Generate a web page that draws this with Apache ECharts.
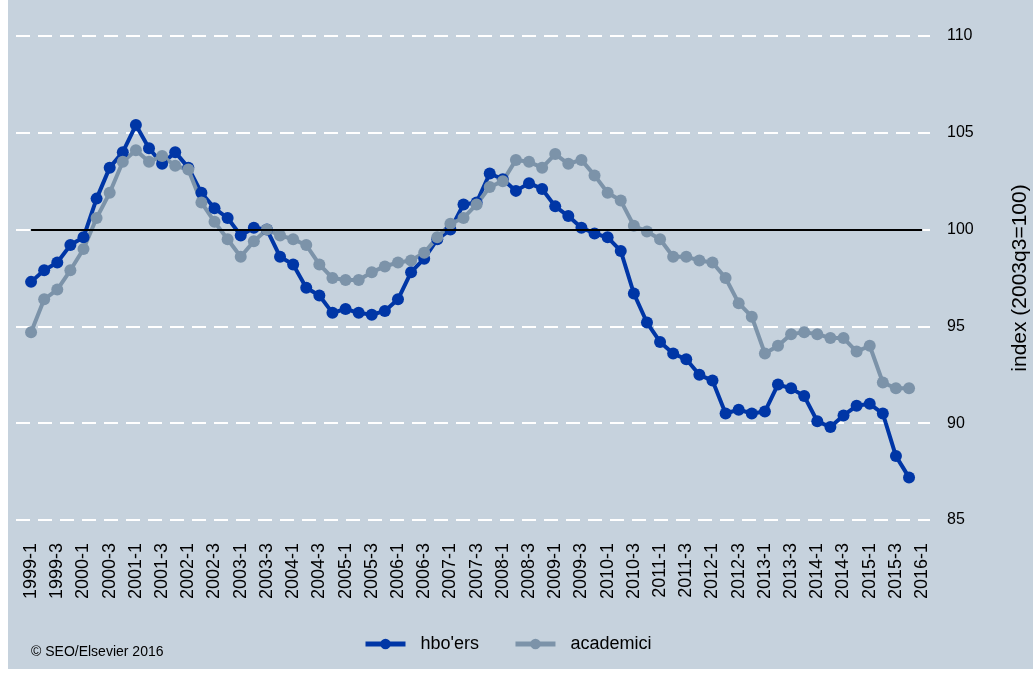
<!DOCTYPE html>
<html>
<head>
<meta charset="utf-8">
<script src="https://cdn.jsdelivr.net/npm/echarts@6/dist/echarts.min.js"></script>
<style>
  html, body { margin: 0; padding: 0; background: #ffffff; overflow: hidden; }
  #chart {
    width: 1033px;
    height: 675px;
    background:
      linear-gradient(to right, #ffffff 8px, transparent 8px),
      linear-gradient(to top, #ffffff 6px, #c6d2dd 6px);
  }
</style>
</head>
<body>
<div id="chart"></div>
<script>
// kwartalen 1999-1 t/m 2016-1
var quarters = [
  "1999-1", "1999-2", "1999-3", "1999-4", "2000-1", "2000-2", "2000-3", "2000-4",
  "2001-1", "2001-2", "2001-3", "2001-4", "2002-1", "2002-2", "2002-3", "2002-4",
  "2003-1", "2003-2", "2003-3", "2003-4", "2004-1", "2004-2", "2004-3", "2004-4",
  "2005-1", "2005-2", "2005-3", "2005-4", "2006-1", "2006-2", "2006-3", "2006-4",
  "2007-1", "2007-2", "2007-3", "2007-4", "2008-1", "2008-2", "2008-3", "2008-4",
  "2009-1", "2009-2", "2009-3", "2009-4", "2010-1", "2010-2", "2010-3", "2010-4",
  "2011-1", "2011-2", "2011-3", "2011-4", "2012-1", "2012-2", "2012-3", "2012-4",
  "2013-1", "2013-2", "2013-3", "2013-4", "2014-1", "2014-2", "2014-3", "2014-4",
  "2015-1", "2015-2", "2015-3", "2015-4", "2016-1"
];

var hbo = [
  97.3, 97.9, 98.3, 99.2, 99.6, 101.6, 103.2, 104.0,
  105.4, 104.2, 103.4, 104.0, 103.2, 101.9, 101.1, 100.6,
  99.7, 100.1, 100.0, 98.6, 98.2, 97.0, 96.6, 95.7,
  95.9, 95.7, 95.6, 95.8, 96.4, 97.8, 98.5, 99.5,
  100.0, 101.3, 101.4, 102.9, 102.6, 102.0, 102.4, 102.1,
  101.2, 100.7, 100.1, 99.8, 99.6, 98.9, 96.7, 95.2,
  94.2, 93.6, 93.3, 92.5, 92.2, 90.5, 90.7, 90.5,
  90.6, 92.0, 91.8, 91.4, 90.1, 89.8, 90.4, 90.9,
  91.0, 90.5, 88.3, 87.2
];

var academici = [
  94.7, 96.4, 96.9, 97.9, 99.0, 100.6, 101.9, 103.5,
  104.1, 103.5, 103.8, 103.3, 103.1, 101.4, 100.4, 99.5,
  98.6, 99.4, 100.0, 99.7, 99.5, 99.2, 98.2, 97.5,
  97.4, 97.4, 97.8, 98.1, 98.3, 98.4, 98.8, 99.6,
  100.3, 100.6, 101.3, 102.2, 102.5, 103.6, 103.5, 103.2,
  103.9, 103.4, 103.6, 102.8, 101.9, 101.5, 100.2, 99.9,
  99.5, 98.6, 98.6, 98.4, 98.3, 97.5, 96.2, 95.5,
  93.6, 94.0, 94.6, 94.7, 94.6, 94.4, 94.4, 93.7,
  94.0, 92.1, 91.8, 91.8
];

var yTicks = [85, 90, 95, 100, 105, 110];
var baseValue = 100; // 2003q3 = 100

(function () {
  var myChart = echarts.init(document.getElementById("chart"));
  var font = "Liberation Sans";

  // om de twee kwartalen een label
  var labelIdx = [];
  for (var i = 0; i < quarters.length; i += 2) {
    labelIdx.push(i);
  }

  function pairs(arr) {
    return arr.map(function (v, i) {
      return [i, v];
    });
  }

  var option = {
    backgroundColor: "transparent",
    animation: false,
    grid: {
      left: 16,
      right: 103,
      top: 36,
      bottom: 155,
      outerBoundsMode: "none",
    },
    xAxis: {
      type: "value",
      min: -1.15,
      max: 68.6,
      splitLine: { show: false },
      axisLine: { show: false },
      axisTick: { show: false },
      axisLabel: {
        customValues: labelIdx,
        rotate: 90,
        margin: 23,
        fontFamily: font,
        fontSize: 18,
        color: "#000",
        formatter: function (v) {
          return quarters[v];
        },
      },
    },
    yAxis: {
      type: "value",
      position: "right",
      min: yTicks[0],
      max: yTicks[yTicks.length - 1],
      interval: 5,
      name: "index (2003q3=100)",
      nameLocation: "middle",
      nameRotate: 90,
      nameGap: 80,
      nameTextStyle: { fontFamily: font, fontSize: 21, color: "#000" },
      axisLine: { show: false },
      axisTick: { show: false },
      axisLabel: {
        margin: 17,
        fontFamily: font,
        fontSize: 16,
        color: "#000",
      },
      splitLine: {
        show: true,
        lineStyle: { color: "#ffffff", width: 2, type: [14, 8] },
      },
    },
    legend: {
      data: ["hbo'ers", "academici"],
      top: 630,
      left: 358,
      itemWidth: 40,
      itemHeight: 13,
      itemGap: 34,
      lineStyle: { width: 5 },
      textStyle: {
        fontFamily: font,
        fontSize: 18,
        color: "#000",
        padding: [0, 0, 0, 10],
      },
    },
    graphic: [
      {
        type: "text",
        left: 31,
        top: 645,
        style: {
          text: "\u00a9 SEO/Elsevier 2016",
          font: "14px " + font,
          fill: "#000",
        },
      },
    ],
    series: [
      {
        name: "basis",
        type: "line",
        data: [],
        silent: true,
        markLine: {
          symbol: "none",
          silent: true,
          label: { show: false },
          lineStyle: { color: "#000", width: 2, type: "solid" },
          data: [
            [
              { coord: [0, baseValue] },
              { coord: [quarters.length - 1, baseValue] },
            ],
          ],
        },
      },
      {
        name: "hbo'ers",
        type: "line",
        data: pairs(hbo),
        symbol: "circle",
        symbolSize: 12,
        color: "#0036a6",
        lineStyle: { width: 4 },
        itemStyle: { color: "#0036a6" },
      },
      {
        name: "academici",
        type: "line",
        data: pairs(academici),
        symbol: "circle",
        symbolSize: 12,
        color: "#7c93a9",
        lineStyle: { width: 4 },
        itemStyle: { color: "#7c93a9" },
      },
    ],
  };

  myChart.setOption(option);
  window.addEventListener("resize", function () {
    myChart.resize();
  });
})();
</script>
</body>
</html>
